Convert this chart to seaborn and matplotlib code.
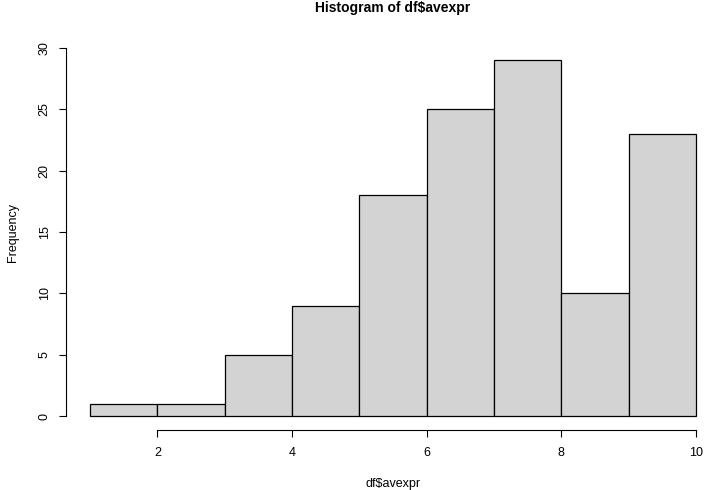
import matplotlib
matplotlib.use("Agg")
import matplotlib.pyplot as plt
import seaborn as sns
import pandas as pd

# ─── Data ────────────────────────────────────────────────────────────────────
bin_edges = [1, 2, 3, 4, 5, 6, 7, 8, 9, 10]
counts = [1, 1, 5, 9, 18, 25, 29, 10, 23]
x_ticks = [2, 4, 6, 8, 10]
y_ticks = [0, 5, 10, 15, 20, 25, 30]

centers = [(a + b) / 2 for a, b in zip(bin_edges[:-1], bin_edges[1:])]
df = pd.DataFrame({"avexpr": centers, "n": counts})

# ─── Plot ─────────────────────────────────────────────────────────────────────
sns.set_style("white")
plt.rcParams["font.family"] = ["Liberation Sans", "DejaVu Sans"]
plt.rcParams["text.color"] = "black"
plt.rcParams["axes.labelcolor"] = "black"
plt.rcParams["xtick.color"] = "black"
plt.rcParams["ytick.color"] = "black"

fig = plt.figure(figsize=(7.04, 4.90), dpi=100)
ax = fig.add_axes([0.12784, 0.15102, 0.86080, 0.75102])

sns.histplot(
    data=df, x="avexpr", weights="n", bins=bin_edges,
    color="#d3d3d3", alpha=1, edgecolor="black", linewidth=0.9, ax=ax,
)
for p in ax.patches:
    p.set_clip_on(False)

ax.set_xlim(bin_edges[0], bin_edges[-1])
ax.set_ylim(0, 30)
ax.set_xticks(x_ticks)
ax.set_yticks(y_ticks)

# R-style detached axes
for side in ["top", "right"]:
    ax.spines[side].set_visible(False)
ax.spines["left"].set_position(("outward", 17.3))
ax.spines["bottom"].set_position(("outward", 10.1))
ax.spines["left"].set_bounds(y_ticks[0], y_ticks[-1])
ax.spines["bottom"].set_bounds(x_ticks[0], x_ticks[-1])
for side in ["left", "bottom"]:
    ax.spines[side].set_color("black")
    ax.spines[side].set_linewidth(0.8)

ax.tick_params(axis="both", bottom=True, left=True, direction="out",
               length=5, width=0.8, color="black", labelcolor="black",
               labelsize=9)
ax.tick_params(axis="x", pad=7)
ax.tick_params(axis="y", pad=6)
for lab in ax.get_yticklabels():
    lab.set_rotation(90)
    lab.set_va("center")

ax.set_xlabel(r"df\$avexpr", fontsize=9, labelpad=14)
ax.set_ylabel("Frequency", fontsize=9, labelpad=14)
ax.set_title(r"Histogram of df\$avexpr", fontsize=10, fontweight="bold", pad=26)

fig.savefig("out.png", dpi=100)
plt.close(fig)
